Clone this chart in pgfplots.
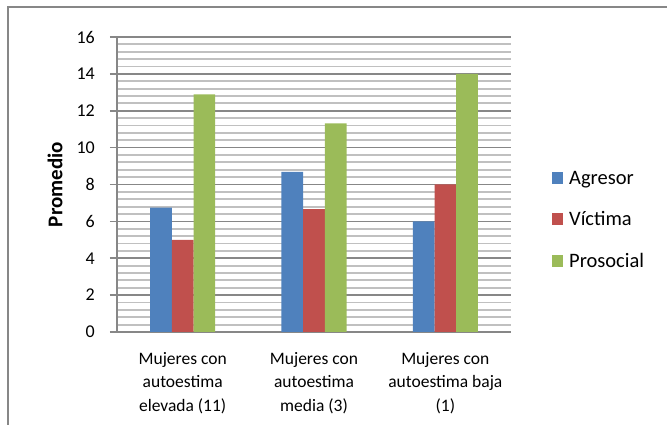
\documentclass[border=0pt]{standalone}
\usepackage{fontspec}
\setmainfont{Carlito}
\usepackage{pgfplots}
\pgfplotsset{compat=1.18}
\definecolor{cblue}{HTML}{4F81BD}
\definecolor{cred}{HTML}{C0504D}
\definecolor{cgreen}{HTML}{9BBB59}
\definecolor{gmaj}{HTML}{878787}
\definecolor{gmin}{HTML}{C0C0C0}
\begin{document}
\begin{tikzpicture}[x=1pt,y=1pt]
\path[use as bounding box] (0,0) rectangle (667,425);
\draw[gmaj, line width=2pt] (7.5,0) -- (7.5,417.5) -- (667,417.5);
\begin{axis}[
  at={(117pt,93pt)}, anchor=south west,
  scale only axis, width=394pt, height=295pt,
  ymin=0, ymax=16, ytick={0,2,...,16}, minor y tick num=4,
  xmin=-0.5, xmax=2.5, xtick={0,1,2},
  xticklabels={{Mujeres con\\autoestima\\elevada (11)},{Mujeres con\\autoestima\\media (3)},{Mujeres con\\autoestima baja\\(1)}},
  ybar=0pt, bar width=0.165,
  axis x line=bottom, axis y line=left,
  axis line style={gmaj, line width=2pt, -},
  ymajorgrids, yminorgrids,
  major grid style={gmaj, line width=1.6pt},
  minor grid style={gmin, line width=1.9pt},
  tick align=outside, major tick length=7pt, minor tick length=0pt,
  x tick style={draw=none}, y tick style={gmaj, line width=1.6pt},
  /pgf/number format/assume math mode=true,
  yticklabel style={anchor=east, inner sep=0pt, xshift=-15pt, font=\fontsize{18}{23}\selectfont},
  xticklabel style={anchor=north, inner sep=0pt, yshift=-13pt, align=center, font=\fontsize{17.5}{23.5}\selectfont},
  ylabel={Promedio},
  ylabel style={at={(axis description cs:-0.157,0.5)}, anchor=center, font=\fontsize{21}{24}\selectfont\bfseries},
  legend style={at={(axis description cs:1.104,0.380)}, anchor=west, draw=none, fill=none, inner sep=0pt,
    font=\fontsize{20.5}{24}\selectfont, row sep=26pt, nodes={inner sep=0pt},
    /tikz/every odd column/.append style={column sep=6pt}},
  legend cell align=left,
  legend image code/.code={\fill[#1,draw=none] (0pt,-6pt) rectangle (11pt,6pt);},
]
\addplot[fill=cblue, draw=none] coordinates {(0,6.74) (1,8.68) (2,6)};
\addplot[fill=cred, draw=none] coordinates {(0,5) (1,6.67) (2,8)};
\addplot[fill=cgreen, draw=none] coordinates {(0,12.89) (1,11.32) (2,14)};
\legend{Agresor,Víctima,Prosocial}
\end{axis}
\end{tikzpicture}
\end{document}
